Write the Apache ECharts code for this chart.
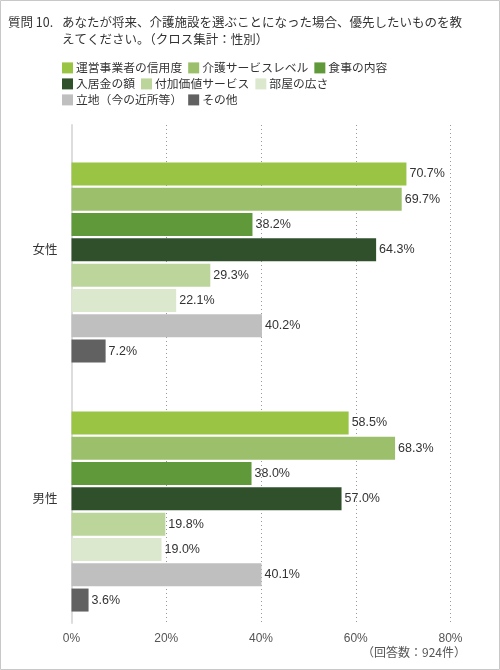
<!DOCTYPE html>
<html>
<head>
<meta charset="utf-8">
<script src="https://cdn.jsdelivr.net/npm/echarts@6/dist/echarts.min.js"></script>
<style>
  html, body { margin: 0; padding: 0; background: #fff; }
  #chart { width: 500px; height: 670px; }
</style>
</head>
<body>
<div id="chart"></div>
<script>
// 性別ごとの回答（%）
const categories = ['女性', '男性']
const seriesNames = [
  '運営事業者の信用度', '介護サービスレベル', '食事の内容',
  '入居金の額', '付加価値サービス', '部屋の広さ',
  '立地（今の近所等）', 'その他'
]
const female = [70.7, 69.7, 38.2, 64.3, 29.3, 22.1, 40.2, 7.2]
const male = [58.5, 68.3, 38.0, 57.0, 19.8, 19.0, 40.1, 3.6]
const xTicks = [0, 20, 40, 60, 80]
const colors = ['#9ac444', '#9cbf6c', '#5f993a', '#30502c', '#bcd59b', '#dce8ce', '#bfbfbf', '#616161']

const jp = '"Noto Sans CJK JP", "Noto Sans", sans-serif'
const num = '"Liberation Sans", Arial, "Noto Sans CJK JP", sans-serif'

const chart = echarts.init(document.getElementById('chart'))

const series = seriesNames.map((name, i) => ({
  name,
  type: 'bar',
  xAxisIndex: 1,
  yAxisIndex: 1,
  barWidth: 23,
  barGap: '10%',
  data: [female[i], male[i]],
  itemStyle: { color: colors[i] },
  label: {
    show: true,
    position: 'right',
    distance: 3,
    color: '#333',
    fontFamily: num,
    fontSize: 12.5,
    formatter: (p) => p.value.toFixed(1) + '%'
  }
}))

const legendRow = (names, top) => ({
  data: names,
  left: 62,
  top,
  icon: 'rect',
  itemWidth: 11,
  itemHeight: 11,
  itemGap: 6,
  padding: 0,
  selectedMode: false,
  textStyle: { color: '#333', fontSize: 11.8, fontFamily: jp, padding: [0, 0, 0, -2] }
})

chart.setOption({
  animation: false,
  title: [
    {
      text: '質問 10.',
      left: 8, top: 14, padding: 0,
      textStyle: { color: '#333', fontSize: 12.5, fontWeight: 'normal', fontFamily: jp, lineHeight: 17 }
    },
    {
      text: 'あなたが将来、介護施設を選ぶことになった場合、優先したいものを教\nえてください。（クロス集計：性別）',
      left: 62, top: 14, padding: 0,
      textStyle: { color: '#333', fontSize: 12.5, fontWeight: 'normal', fontFamily: jp, lineHeight: 17 }
    }
  ],
  legend: [
    legendRow(seriesNames.slice(0, 3), 62),
    legendRow(seriesNames.slice(3, 6), 78),
    legendRow(seriesNames.slice(6), 94)
  ],
  grid: [
    { left: 71.5, right: 49.5, top: 125, height: 498 },
    { left: 71.5, right: 49.5, top: 138, height: 498 }
  ],
  xAxis: [
    {
      gridIndex: 0,
      type: 'value',
      min: xTicks[0],
      max: xTicks[xTicks.length - 1],
      interval: 20,
      axisLine: { show: false },
      axisTick: { show: false },
      axisLabel: { color: '#555', fontSize: 12, fontFamily: num, margin: 10, formatter: '{value}%' },
      splitLine: { lineStyle: { color: '#999', type: [1, 3], width: 1 } }
    },
    { gridIndex: 1, type: 'value', min: 0, max: 80, show: false }
  ],
  yAxis: [
    {
      gridIndex: 0,
      type: 'category',
      inverse: true,
      data: categories,
      axisLine: { lineStyle: { color: '#ddd', width: 2 } },
      axisTick: { show: false },
      axisLabel: { color: '#333', fontSize: 12.5, fontFamily: jp, margin: 14 }
    },
    { gridIndex: 1, type: 'category', inverse: true, data: categories, show: false }
  ],
  series,
  graphic: [
    {
      type: 'text',
      x: 466, y: 652,
      style: { text: '（回答数：924件）', textAlign: 'right', textVerticalAlign: 'middle', fill: '#555', font: '12px ' + jp }
    },
    {
      type: 'rect',
      shape: { x: 0.5, y: 0.5, width: 499, height: 669 },
      style: { fill: 'none', stroke: '#c8c8c8', lineWidth: 1 }
    }
  ]
})
</script>
</body>
</html>
